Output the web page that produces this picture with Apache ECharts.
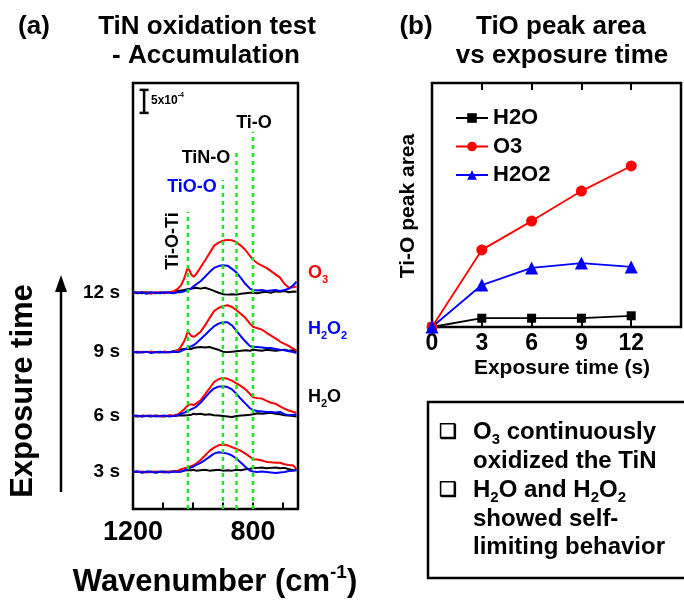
<!DOCTYPE html>
<html><head><meta charset="utf-8">
<script src="https://cdn.jsdelivr.net/npm/echarts@6/dist/echarts.min.js"></script>
<style>html,body{margin:0;padding:0;background:#fff}#c{width:684px;height:600px}</style>
</head><body><div id="c"></div>
<script>
// ---------- DATA ----------
const wavenumbers = [1200,1185,1170,1155,1140,1125,1110,1095,1080,1065,1050,1040,1030,1024,1018,1012,1005,998,990,975,960,945,930,915,900,885,870,855,840,825,810,800,785,770,755,740,725,710,695,680,665,655];
// spectra in units of 1e-4 absorbance (before stacking)
const o3_12   = [0.1,-0.1,0.2,0,-0.2,0.1,0,-0.1,0.1,0.3, 0.9,1.6,3.0,4.2,5.4,4.9,3.9,3.5,4.0, 5.5,7.0,8.6,10.2,10.9,11.3,11.5,11.4,11.0,10.2, 9.3,8.0,7.2,6.4,5.9,5.4,4.7,4.0,3.3,1.9, 1.1,1.2,1.4];
const h2o2_12 = [0.2,-0.1,0.1,-0.2,0.1,0,-0.1,0.1,0,-0.1, 0.1,0.1,0.3,0.4,0.6,0.8,1.0,1.4,1.8, 2.5,3.5,4.5,5.4,5.8,6.0,5.9,5.2,4.4,3.2, 1.9,0.9,0.6,0.5,0.6,0.4,0.5,0.6,0.4,0.6, 0.9,1.7,2.4];
const h2o_12  = [0,0.1,-0.1,0.1,0,-0.1,0.1,0,0.1,0.2, 0.4,0.5,0.6,0.7,0.8,0.7,0.9,1.0,1.1, 0.9,1.1,0.8,0.4,0.0,-0.3,-0.4,-0.3,-0.4,-0.2, -0.1,0,0,-0.1,0.1,0.2,0,0.3,0.2,0.4, 0.1,0.3,0.2];
const o3_9    = [0,-0.1,0.1,0,0.1,-0.1,0,0.1,-0.1,0.1, 0.4,1.2,2.3,3.2,4.5,4.3,3.5,3.3,3.6, 4.4,5.8,7.4,8.9,9.6,10.0,10.2,9.8,9.1,8.3, 7.4,6.2,5.5,5.2,4.9,4.2,3.6,3.0,2.3,1.8, 1.3,0.7,0.4];
const h2o2_9  = [0.1,-0.1,0,0.1,-0.2,0,0.1,-0.1,0,0.1, 0,0.2,0.5,0.7,0.9,1.1,1.3,1.5,1.9, 2.8,3.7,4.7,5.6,6.2,6.5,6.5,5.8,4.6,3.4, 2.3,1.3,1.1,1.1,1.0,0.9,0.9,0.7,0.5,0.4, 0.2,0,-0.2];
const h2o_9   = [0,0.1,-0.1,0,0.1,0,-0.1,0.1,0,0.2, 0.4,0.6,0.7,0.6,0.7,0.8,0.7,0.9,1.0, 1.1,1.0,1.1,0.8,0.5,0.1,0,0.1,0.2,0.3, 0.4,0.3,0.5,0.4,0.3,0.5,0.4,0.3,0.4,0.5, 0.3,0.4,0.2];
const o3_6    = [0.1,0,-0.1,0.1,0,0.1,-0.1,0,0.1,0.1, 0.4,0.9,1.4,1.9,2.2,2.5,2.5,2.4,2.7, 3.4,4.7,6.0,7.4,8.0,8.3,8.1,7.7,7.1,6.5, 5.8,4.8,4.1,3.9,3.8,3.3,2.9,2.7,2.1,1.6, 1.2,0.9,0.8];
const h2o2_6  = [0,0.1,-0.1,0,0.1,-0.1,0,0.1,-0.1,0, 0.2,0.5,0.7,0.9,1.1,1.3,1.5,1.7,2.0, 2.9,4.0,5.1,6.0,6.4,6.5,6.3,5.8,4.8,3.7, 2.7,1.7,1.3,1.1,1.0,0.9,0.9,0.8,0.9,0.4, 0.2,0.3,0.4];
const h2o_6   = [0,-0.1,0.1,0,-0.1,0.1,0,-0.1,0.1,0, 0.1,0.2,0.1,0.3,0.2,0.4,0.3,0.5,0.4, 0.5,0.3,0.4,0.2,0.1,0,-0.1,-0.2,0,0.1, 0.2,0.3,0.4,0.6,0.5,0.6,0.7,0.5,0.4,0.2, 0.1,0,-0.1];
const o3_3    = [0.1,0,0.1,-0.1,0,0.1,0,-0.1,0.1,0.1, 0.3,0.6,0.8,0.9,1.0,1.2,1.3,1.5,1.8, 2.6,3.6,4.6,5.3,5.8,6.0,5.8,5.4,5.0,4.6, 4.0,3.3,2.8,2.7,2.5,2.2,2.1,2.0,2.0,1.7, 1.5,1.4,0.6];
const h2o2_3  = [0,0.1,-0.1,0.1,0,-0.1,0.1,0,-0.1,0.1, 0,0.1,0.3,0.5,0.7,0.8,1.0,1.2,1.5, 2.0,2.6,3.3,4.0,4.3,4.2,4.0,3.6,2.9,2.0, 1.1,0.3,0.1,0,0.1,0,-0.1,-0.2,-0.1,0, 0.2,0.3,0.5];
const h2o_3   = [0,0.1,-0.1,0,0.1,-0.1,0,0.1,0,0.1, 0.2,0.1,0.3,0.2,0.4,0.3,0.4,0.5,0.3, 0.4,0.5,0.3,0.4,0.5,0.3,0.4,0.3,0.5,0.4, 0.6,0.7,0.8,0.9,1.0,0.8,0.9,1.0,0.8,0.9, 0.6,0.4,0.3];
const exposureLabels = ['3 s','6 s','9 s','12 s'];
const spectrumOffsets = [8.04, 20.2, 34.1, 47.0];
const peakNames = ['Ti-O-Ti','TiO-O','TiN-O','Ti-O'];
const peakWavenumbers = [1017, 900, 855, 800];
const wnTickValues = [700, 800, 900, 1000, 1100];
const wnLabelValues = [1200, 800];

// panel (b)
const times = [0,3,6,9,12];
const areaH2O  = [0,0.36,0.36,0.36,0.46];
const areaO3   = [0,3.16,4.34,5.57,6.60];
const areaH2O2 = [0,1.72,2.42,2.62,2.46];

// ---------- LAYOUT / STYLE ----------
const F = '"Liberation Sans", Arial, Helvetica, sans-serif';
const peakLineTops = [64.6, 71.5, 77.6, 82.0];
const tickLen = 1.4; // in y units (~6 px)
const GREEN = '#1ee61e';
const spectraSets = [
  {h2o:h2o_3,  o3:o3_3,  h2o2:h2o2_3},
  {h2o:h2o_6,  o3:o3_6,  h2o2:h2o2_6},
  {h2o:h2o_9,  o3:o3_9,  h2o2:h2o2_9},
  {h2o:h2o_12, o3:o3_12, h2o2:h2o2_12}
];

const series = [];
// inward ticks on wavenumber axis (drawn as tiny line segments)
wnTickValues.forEach(v => {
  series.push({type:'line', name:'tick'+v, xAxisIndex:0, yAxisIndex:0,
    data:[[v,0],[v,tickLen]], symbol:'none', lineStyle:{color:'#000', width:2}, z:2, silent:true});
});
spectraSets.forEach((s, i) => {
  const off = spectrumOffsets[i];
  [['h2o','#000000'],['o3','#ff0000'],['h2o2','#0000ff']].forEach(([k,c]) => {
    series.push({
      type:'line', name: k + ' ' + exposureLabels[i], xAxisIndex:0, yAxisIndex:0,
      data: wavenumbers.map((w,j) => [w, s[k][j] + off]),
      symbol:'none', lineStyle:{color:c, width:2}, z:3, silent:true
    });
  });
});
peakWavenumbers.forEach((w,i) => {
  series.push({type:'line', name:peakNames[i], xAxisIndex:0, yAxisIndex:0,
    data:[[w,0],[w,peakLineTops[i]]], symbol:'none',
    lineStyle:{color:GREEN, width:2.5, type:[4,4]}, z:5, silent:true});
});
// scale bar 5x10^-4
series.push({type:'line', name:'scale', xAxisIndex:0, yAxisIndex:0,
  data:[[1163,86.1],[1163,91.1]], symbol:'rect', symbolSize:[9,2.5],
  itemStyle:{color:'#000'}, lineStyle:{color:'#000', width:2.5}, z:6, silent:true});

// panel (b)
series.push({type:'line', name:'H2O', xAxisIndex:1, yAxisIndex:1,
  data: times.map((t,i)=>[t, areaH2O[i]]), symbol:'rect', symbolSize:9,
  itemStyle:{color:'#000'}, lineStyle:{color:'#000', width:1.8}, z:4});
series.push({type:'line', name:'O3', xAxisIndex:1, yAxisIndex:1,
  data: times.map((t,i)=>[t, areaO3[i]]), symbol:'circle', symbolSize:11,
  itemStyle:{color:'#ff0000'}, lineStyle:{color:'#ff0000', width:1.8}, z:4});
series.push({type:'line', name:'H2O2', xAxisIndex:1, yAxisIndex:1,
  data: times.map((t,i)=>[t, areaH2O2[i]]), symbol:'triangle', symbolSize:13,
  itemStyle:{color:'#0000ff'}, lineStyle:{color:'#0000ff', width:1.8}, z:4});

function T(x, y, text, size, opts) {
  opts = opts || {};
  return {type:'text', x:x, y:y, rotation: opts.rot || 0, z:10,
    style:{text:text, fill: opts.color || '#000', fontSize:size, fontWeight:'bold', fontFamily:F,
      align: opts.align || 'center', verticalAlign:'middle', rich: opts.rich}};
}
function richSub(size, color) {
  return {
    m:{fontSize:size, fontWeight:'bold', fontFamily:F, fill:color, lineHeight:size+6, verticalAlign:'middle'},
    s:{fontSize:Math.round(size*0.62), fontWeight:'bold', fontFamily:F, fill:color, verticalAlign:'bottom'},
    p:{fontSize:Math.round(size*0.62), fontWeight:'bold', fontFamily:F, fill:color, verticalAlign:'top'}
  };
}

const graphics = [
  T(34, 27, '(a)', 26),
  T(207, 27, 'TiN oxidation test', 26),
  T(206, 56, '- Accumulation', 26),
  T(416, 27, '(b)', 26),
  T(561, 27, 'TiO peak area', 26),
  T(562, 56, 'vs exposure time', 26),
  T(23, 391, 'Exposure time', 31, {rot: Math.PI/2}),
  {type:'line', z:10, shape:{x1:61, y1:492, x2:61, y2:288}, style:{stroke:'#000', lineWidth:2.5}},
  {type:'polygon', z:10, shape:{points:[[61,275],[55,292],[67,292]]}, style:{fill:'#000'}},
  T(254, 123, 'Ti-O', 18),
  T(206, 158, 'TiN-O', 18),
  T(192, 187, 'TiO-O', 18, {color:'#0000ff'}),
  T(173, 241, 'Ti-O-Ti', 18, {rot: Math.PI/2}),
  T(151, 101, '{m|5x10}{p|-4}', 12, {align:'left', rich: richSub(12,'#000')}),
  T(308, 273, '{m|O}{s|3}', 18, {align:'left', color:'#ff0000', rich: richSub(18,'#ff0000')}),
  T(308, 329, '{m|H}{s|2}{m|O}{s|2}', 18, {align:'left', color:'#0000ff', rich: richSub(18,'#0000ff')}),
  T(308, 397, '{m|H}{s|2}{m|O}', 18, {align:'left', rich: richSub(18,'#000')}),
  T(215, 582, '{m|Wavenumber (cm}{p|-1}{m|)}', 31, {rich: richSub(31,'#000')}),
  T(408, 206, 'Ti-O peak area', 21, {rot: Math.PI/2}),
  T(562, 368, 'Exposure time (s)', 21),
  {type:'rect', z:10, shape:{x:428, y:402, width:280, height:176}, style:{fill:'none', stroke:'#000', lineWidth:2.5}},
  T(448, 432, '❑', 20),
  T(448, 490, '❑', 20),
  T(473, 432, '{m|O}{s|3}{m| continuously}', 24, {align:'left', rich: richSub(24,'#000')}),
  T(473, 461, 'oxidized the TiN', 24, {align:'left'}),
  T(473, 490, '{m|H}{s|2}{m|O and H}{s|2}{m|O}{s|2}', 24, {align:'left', rich: richSub(24,'#000')}),
  T(473, 519, 'showed self-', 24, {align:'left'}),
  T(473, 547, 'limiting behavior', 24, {align:'left'})
];

const option = {
  animation:false,
  backgroundColor:'#fff',
  grid:[
    {left:133, top:83, width:165, height:426, show:true, borderColor:'#000', borderWidth:2.5, backgroundColor:'rgba(0,0,0,0)'},
    {left:432, top:83, width:259, height:244, show:true, borderColor:'#000', borderWidth:2.5, backgroundColor:'rgba(0,0,0,0)'}
  ],
  xAxis:[
    {gridIndex:0, type:'value', inverse:true, min:650, max:1200,
      axisLine:{show:false}, splitLine:{show:false}, axisTick:{show:false},
      axisLabel:{customValues: wnLabelValues, fontSize:27, fontWeight:'bold', color:'#000', fontFamily:F, margin:10,
        formatter: v => String(v)}},
    {gridIndex:1, type:'value', min:0, max:15, interval:3,
      axisLine:{show:false}, splitLine:{show:false},
      axisTick:{show:true, inside:true, length:7, lineStyle:{color:'#000', width:2}},
      axisLabel:{fontSize:23, fontWeight:'bold', color:'#000', fontFamily:F, margin:5,
        formatter: v => (v > 12 ? '' : String(v))}},
    {gridIndex:1, type:'value', position:'top', min:0, max:15, interval:3,
      axisLine:{show:false}, splitLine:{show:false},
      axisTick:{show:true, inside:true, length:7, lineStyle:{color:'#000', width:2}},
      axisLabel:{show:false}}
  ],
  yAxis:[
    {gridIndex:0, type:'value', min:0, max:92.6,
      axisLine:{show:false}, splitLine:{show:false}, axisTick:{show:false},
      axisLabel:{customValues: spectrumOffsets, fontSize:19, fontWeight:'bold', color:'#000', fontFamily:F, margin:13,
        formatter: v => { const i = spectrumOffsets.findIndex(o => Math.abs(o - v) < 1e-6); return i >= 0 ? exposureLabels[i] : ''; }}},
    {gridIndex:1, type:'value', min:0, max:10,
      axisLine:{show:false}, splitLine:{show:false}, axisTick:{show:false}, axisLabel:{show:false}}
  ],
  legend:{data:['H2O','O3','H2O2'], orient:'vertical', left:450, top:102,
    itemWidth:32, itemHeight:12, itemGap:6.5,
    textStyle:{fontSize:22, fontWeight:'bold', color:'#000', fontFamily:F, lineHeight:22}},
  series: series,
  graphic: graphics
};
const chart = echarts.init(document.getElementById('c'));
chart.setOption(option);
</script>
</body></html>
